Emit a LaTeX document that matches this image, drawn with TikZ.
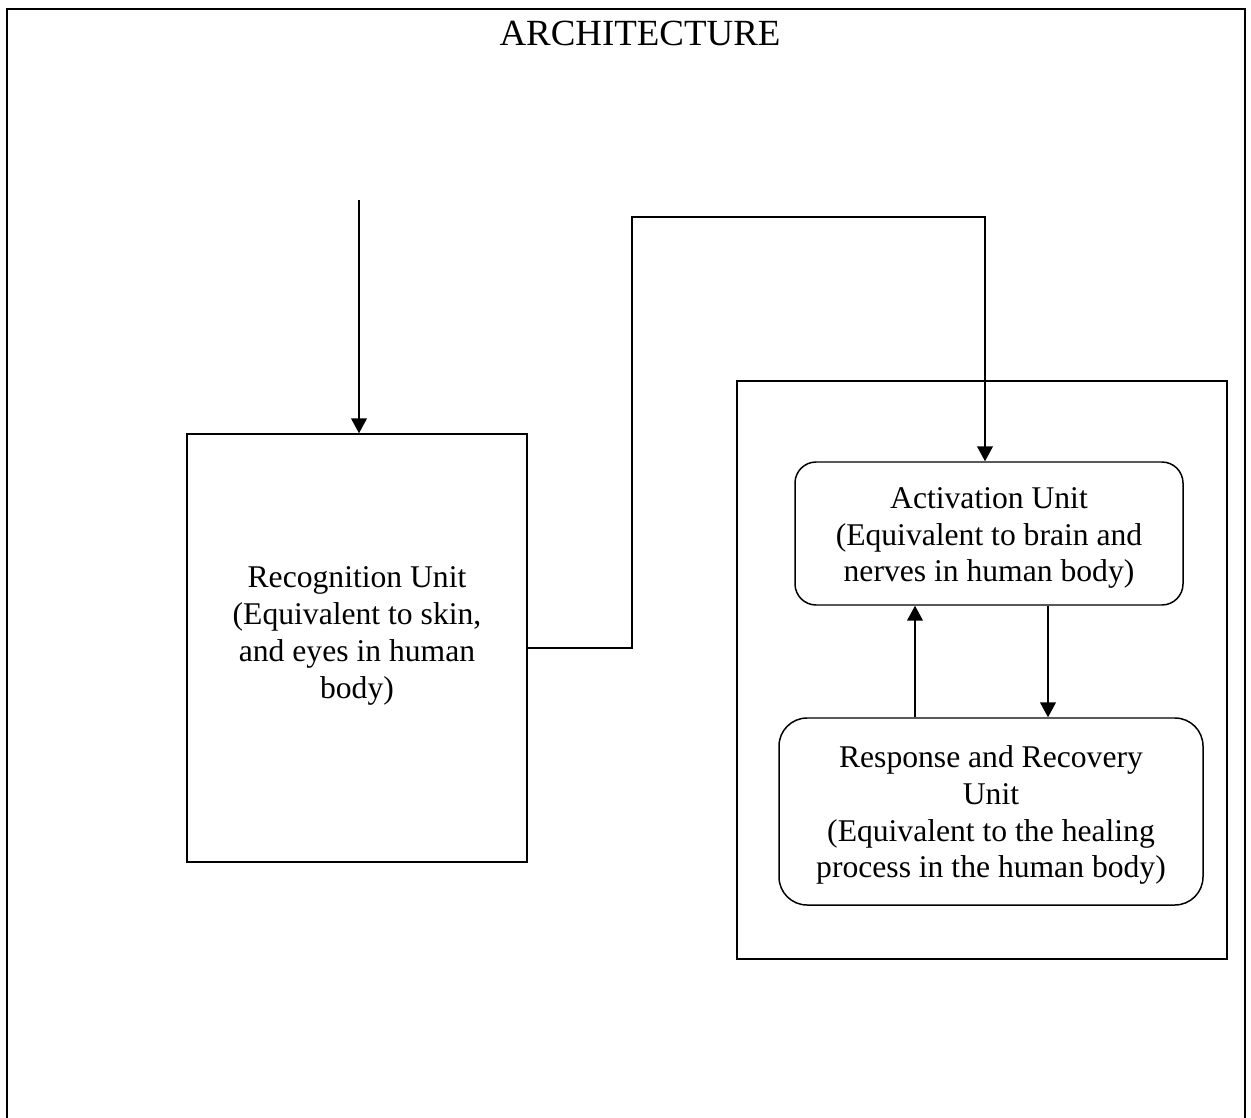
\documentclass[tikz,border=0pt]{standalone}
\usepackage{fontspec}
\setmainfont{Liberation Serif}
\usetikzlibrary{arrows.meta}

\begin{document}
\begin{tikzpicture}[x=0.02cm,y=-0.02cm,
    line width=0.85pt,
    box/.style={draw,inner sep=0pt},
    roundbox/.style={box,rounded corners=12pt},
    txt/.style={align=center,font=\fontsize{18}{21}\selectfont,inner sep=0pt},
    arr/.style={-{Triangle[length=8.5pt,width=9pt]}}]
      \useasboundingbox (0,0) rectangle (1251,1118);
      % outer frame, open at the bottom
      \draw[line width=1.2pt] (7,1130) -- (7,9) -- (1245,9) -- (1245,1130);
      \node[font=\fontsize{21}{25}\selectfont] (title) at (640,33) {ARCHITECTURE};

      % boxes
      \node[box,minimum width=340*0.02cm,minimum height=428*0.02cm] (recog) at (357,648) {};
      \node[box,minimum width=490*0.02cm,minimum height=578*0.02cm] (group) at (982,670) {};
      \node[roundbox,minimum width=388*0.02cm,minimum height=143*0.02cm] (activ) at (989,533.5) {};
      \node[roundbox,rounded corners=16pt,minimum width=424*0.02cm,minimum height=187*0.02cm] (resp) at (991,811.5) {};

      % texts
      \node[txt] (recogtext) at (357,636) {
        Recognition Unit\\
        (Equivalent to skin,\\
        and eyes in human\\
        body)
      };
      \node[txt] (activtext) at (989,538) {
        Activation Unit\\
        (Equivalent to brain and\\
        nerves in human body)
      };
      \node[txt] (resptext) at (991,815) {
        Response and Recovery\\
        Unit\\
        (Equivalent to the healing\\
        process in the human body)
      };

      % connectors
      \coordinate (input) at (359,200);
      \coordinate (bend) at (632,217);
      \draw[arr] (input) -- (recog.north -| input);
      \draw[arr] (recog.east) -- (recog.east -| bend) -- (bend) -- (985,217) -- (activ.north -| 985,0);
      \draw[arr] (resp.north -| 915,0) -- (activ.south -| 915,0);
      \draw[arr] (activ.south -| 1048,0) -- (resp.north -| 1048,0);
    \end{tikzpicture}
\end{document}
